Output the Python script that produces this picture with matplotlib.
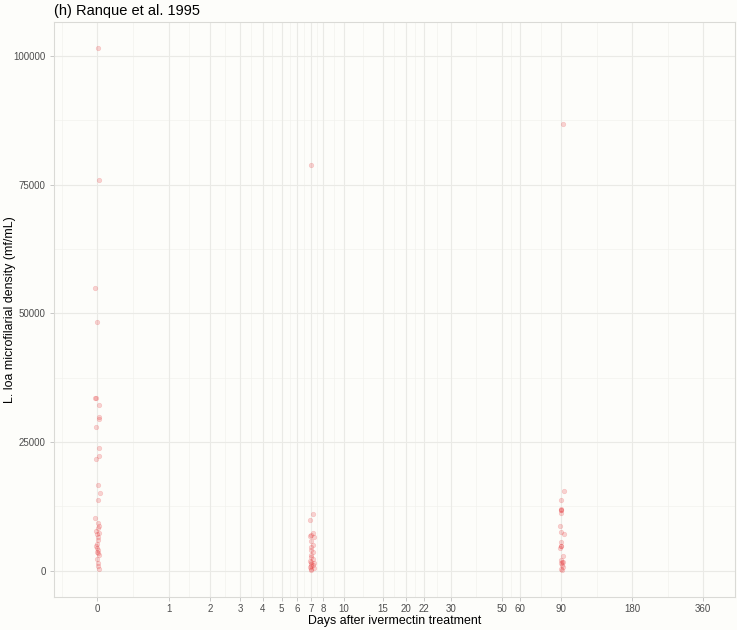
import numpy as np
import matplotlib
matplotlib.use("Agg")
import matplotlib.pyplot as plt

# mf/mL, days include the horizontal jitter seen in the plot
d0_mf = [101600, 76000, 55000, 48300, 33500, 33500, 32300, 29800, 29500, 27900,
         23800, 22400, 21800, 16700, 15100, 13700, 10200, 9300, 8800, 8300,
         7800, 7400, 7200, 6600, 6000, 5200, 4800, 4400, 4100, 3700,
         3400, 3000, 2300, 1600, 900, 300]
d0_day = [0.007, 0.017, -0.022, -0.003, -0.022, -0.013, 0.012, 0.017, 0.012, -0.017,
          0.017, 0.012, -0.013, 0.002, 0.022, 0.002, -0.022, 0.007, 0.017, 0.002,
          -0.013, 0.017, -0.003, 0.007, 0.002, -0.008, -0.017, -0.003, 0.007, -0.008,
          0.002, 0.017, -0.003, 0.002, 0.007, 0.012]

d7_mf = [78800, 11000, 9900, 7400, 7000, 6800, 6600, 5700, 5000, 4600,
         4100, 3600, 3100, 2700, 2300, 2000, 1800, 1500, 1300, 1100,
         900, 700, 500, 300, 150]
d7_day = [7.02, 7.1, 6.87, 7.1, 6.95, 6.87, 7.18, 6.95, 7.1, 7.02,
          6.95, 7.1, 7.02, 6.95, 7.1, 6.87, 7.02, 7.18, 6.95, 7.1,
          7.02, 6.87, 7.18, 6.95, 7.02]

d90_mf = [86800, 15500, 13700, 12100, 11900, 11800, 11300, 8800, 7500, 7200,
          5500, 4900, 4800, 4500, 2900, 2100, 1800, 1700, 1500, 1200,
          800, 300, 100]
d90_day = [91.3, 92.6, 89.3, 89.6, 89.6, 90.0, 89.6, 88.7, 89.6, 92.6,
           90.0, 89.3, 89.6, 88.7, 91.7, 89.6, 90.4, 91.3, 89.6, 90.8,
           91.3, 89.6, 90.4]

# break positions as they sit on the original axis (20/22 are nudged apart there)
xbreaks = [0, 1, 2, 3, 4, 5, 6, 7, 8, 10, 15, 19.1, 22.9, 30, 50, 60, 90, 180, 360]
xlabels = ['0', '1', '2', '3', '4', '5', '6', '7', '8', '10', '15', '20', '22',
           '30', '50', '60', '90', '180', '360']
ybreaks = [0, 25000, 50000, 75000, 100000]

plt.rcParams['font.family'] = ['Liberation Sans', 'DejaVu Sans']
bg = '#FDFDFA'
fig = plt.figure(figsize=(7.37, 6.30), dpi=100, facecolor=bg)
ax = fig.add_axes([0.0733, 0.0524, 0.9237, 0.9132])
ax.set_facecolor(bg)

ax.set_xscale('function', functions=(np.log1p, np.expm1))

days = d0_day + d7_day + d90_day
mf = d0_mf + d7_mf + d90_mf
ax.scatter(days, mf, s=11, color='#E8282B', alpha=0.2, linewidths=0.4,
           edgecolors='#E8282B', zorder=3)

# limits, ggplot style expansion in transformed space
ax.set_xlim(np.expm1(-0.421), np.expm1(6.197))
ax.set_ylim(-5090, 106700)

# minor grid halfway between majors (in log1p space)
t = np.log1p(xbreaks)
xminor = list(np.expm1((t[:-1] + t[1:]) / 2)) + [np.expm1(-(t[1] - t[0]) / 2)]
yminor = [12500, 37500, 62500, 87500]
for v in xminor:
    ax.axvline(v, color='#F2F2EE', lw=0.5, zorder=0)
for v in yminor:
    ax.axhline(v, color='#F2F2EE', lw=0.5, zorder=0)
for v in xbreaks:
    ax.axvline(v, color='#EAEAE6', lw=0.8, zorder=1)
for v in ybreaks:
    ax.axhline(v, color='#EAEAE6', lw=0.8, zorder=1)

ax.set_xticks(xbreaks)
ax.set_xticklabels(xlabels)
ax.set_yticks(ybreaks)
ax.set_yticklabels([str(b) for b in ybreaks])
ax.minorticks_off()
ax.tick_params(colors='#B3B3B3', labelcolor='#4D4D4D', labelsize=7, length=3, width=0.5)
ax.tick_params(axis='x', pad=2)
ax.tick_params(axis='y', pad=3)

for s in ax.spines.values():
    s.set_color('#DADAD6')
    s.set_linewidth(0.8)

ax.set_xlabel('Days after ivermectin treatment', fontsize=8.9, labelpad=1)
ax.set_ylabel('L. loa microfilarial density (mf/mL)', fontsize=8.9)
ax.yaxis.set_label_coords(-0.0559, 0.5)
ax.set_title('(h) Ranque et al. 1995', loc='left', fontsize=10.5, pad=5)

fig.savefig('out.png', dpi=100, facecolor=bg)
